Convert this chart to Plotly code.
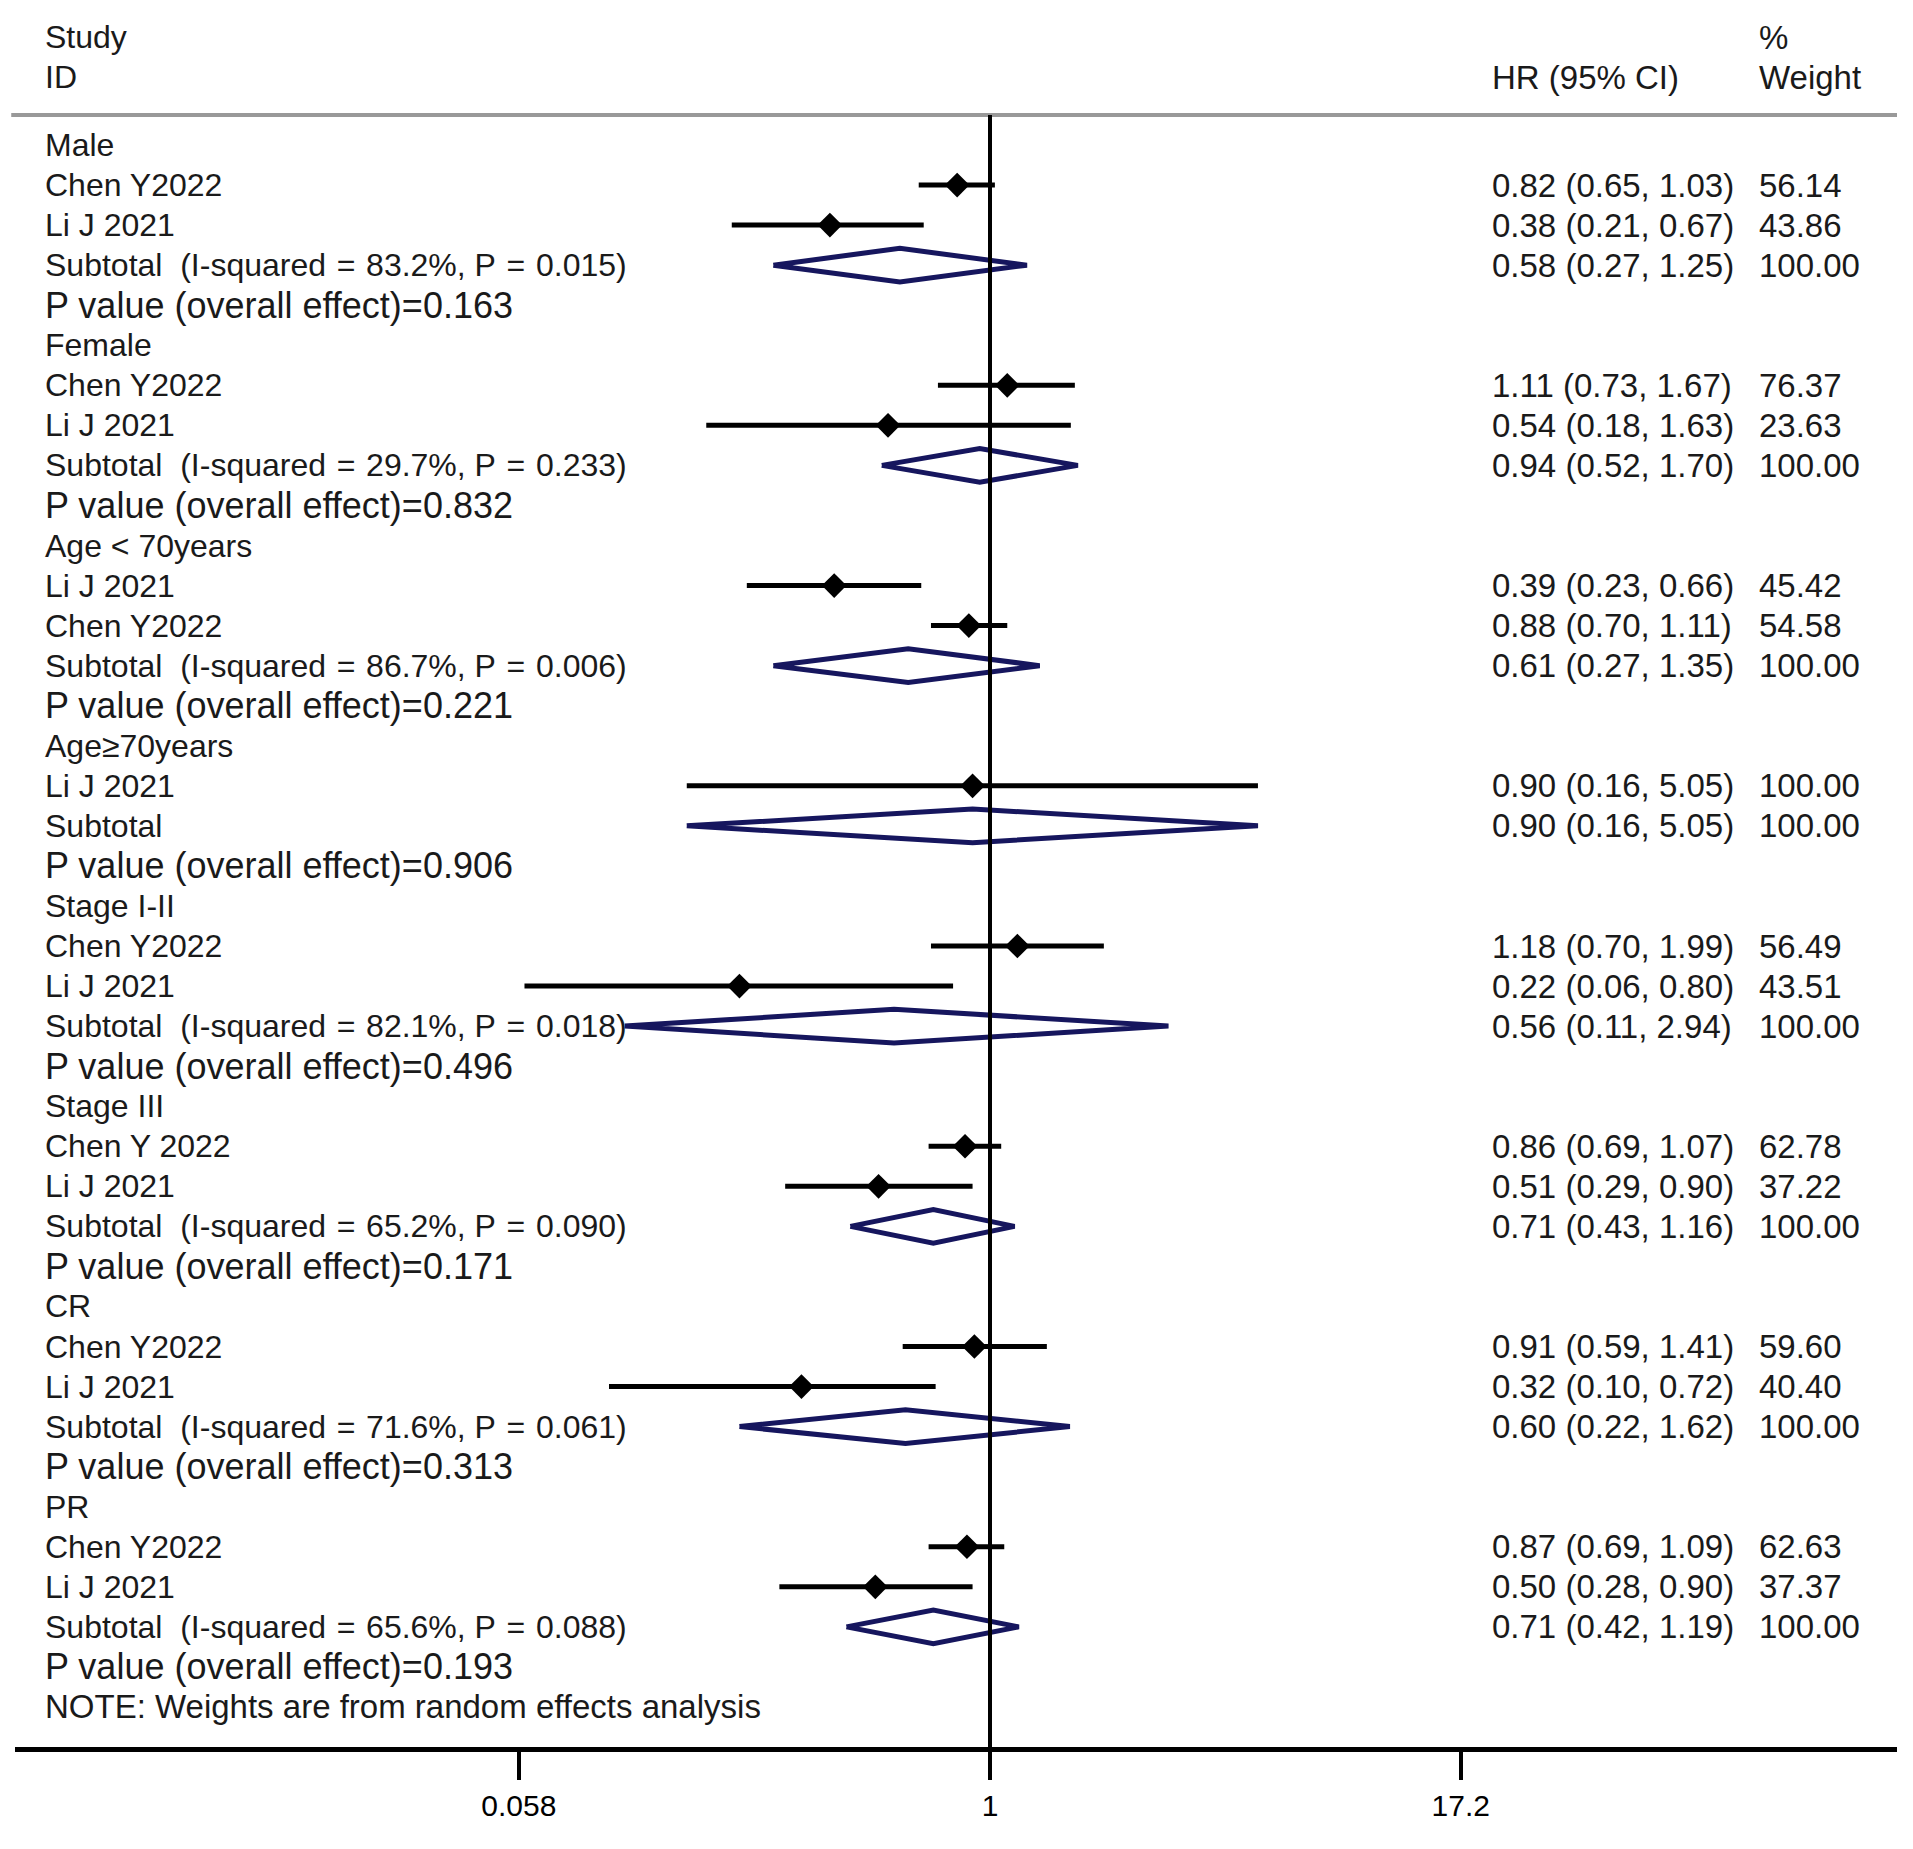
import plotly.graph_objects as go

# ---------------- data ----------------
group_names = ["Male", "Female", "Age < 70years", "Age\u226570years",
               "Stage I-II", "Stage III", "CR", "PR"]

study_group = [0, 0, 1, 1, 2, 2, 3, 4, 4, 5, 5, 6, 6, 7, 7]
study_names = ["Chen Y2022", "Li J 2021", "Chen Y2022", "Li J 2021",
               "Li J 2021", "Chen Y2022", "Li J 2021",
               "Chen Y2022", "Li J 2021", "Chen Y 2022", "Li J 2021",
               "Chen Y2022", "Li J 2021", "Chen Y2022", "Li J 2021"]
study_hr = [0.82, 0.38, 1.11, 0.54, 0.39, 0.88, 0.90, 1.18, 0.22, 0.86, 0.51, 0.91, 0.32, 0.87, 0.50]
study_lo = [0.65, 0.21, 0.73, 0.18, 0.23, 0.70, 0.16, 0.70, 0.06, 0.69, 0.29, 0.59, 0.10, 0.69, 0.28]
study_hi = [1.03, 0.67, 1.67, 1.63, 0.66, 1.11, 5.05, 1.99, 0.80, 1.07, 0.90, 1.41, 0.72, 1.09, 0.90]
study_wt = ["56.14", "43.86", "76.37", "23.63", "45.42", "54.58", "100.00",
            "56.49", "43.51", "62.78", "37.22", "59.60", "40.40", "62.63", "37.37"]

sub_hr = [0.58, 0.94, 0.61, 0.90, 0.56, 0.71, 0.60, 0.71]
sub_lo = [0.27, 0.52, 0.27, 0.16, 0.11, 0.43, 0.22, 0.42]
sub_hi = [1.25, 1.70, 1.35, 5.05, 2.94, 1.16, 1.62, 1.19]
sub_i2 = ["83.2%", "29.7%", "86.7%", None, "82.1%", "65.2%", "71.6%", "65.6%"]
sub_phet = ["0.015", "0.233", "0.006", None, "0.018", "0.090", "0.061", "0.088"]
overall_p = ["0.163", "0.832", "0.221", "0.906", "0.496", "0.171", "0.313", "0.193"]

tick_vals = [0.058, 1, 17.2]
tick_text = ["0.058", "1", "17.2"]

# ---------------- layout constants (pixels) ----------------
W, H = 1913, 1849
OFF = 8                      # page body margin of the html page
PLOT_L_PAGE, PLOT_R_PAGE = 15, 1897
PLOT_B_PAGE = 1747
ML = PLOT_L_PAGE - OFF
MR = W - (PLOT_R_PAGE - OFF)
MT = 0
MB = H - (PLOT_B_PAGE - OFF)
PLOT_W = W - ML - MR
PLOT_H = H - MT - MB
ROW0_PAGE = 145.0
ROW_STEP = 40.05
X1_PAGE = 990.0              # position of HR = 1 on the page
PX_PER_DEC = 381.0

row0_fig = ROW0_PAGE - OFF
y_top = -(row0_fig - MT) / ROW_STEP
y_bot = (MT + PLOT_H - row0_fig) / ROW_STEP
x1_fig = X1_PAGE - OFF
x_left = -(x1_fig - ML) / PX_PER_DEC
x_right = (ML + PLOT_W - x1_fig) / PX_PER_DEC


def row_of(px_page):
    return (px_page - ROW0_PAGE) / ROW_STEP


def xpaper(px_page):
    return (px_page - OFF - ML) / PLOT_W


FONT = "Liberation Sans, Arial, sans-serif"
TXT = "#1a1a1a"
FS = 32
NAVY = "#16165e"

COL_LABEL = xpaper(44)
COL_HR = xpaper(1491)
COL_WT = xpaper(1758)

annotations = []


def add_text(x, y, s, size=FS):
    annotations.append(dict(x=x, y=y, xref="paper", yref="y", text=s, showarrow=False,
                            xanchor="left", yanchor="middle", borderpad=0,
                            font=dict(family=FONT, size=size, color=TXT)))


def fmt_ci(h, l, u):
    return f"{h:.2f} ({l:.2f}, {u:.2f})"


EQ = "\u2004=\u2004"

# ---------------- build rows ----------------
ci_x, ci_y = [], []
pt_x, pt_y = [], []
dia_x, dia_y = [], []
row = 0
for g, gname in enumerate(group_names):
    add_text(COL_LABEL, row, gname)
    row += 1
    for k in range(len(study_group)):
        if study_group[k] != g:
            continue
        add_text(COL_LABEL, row, study_names[k])
        add_text(COL_HR, row, fmt_ci(study_hr[k], study_lo[k], study_hi[k]), 33)
        add_text(COL_WT, row, study_wt[k], 33)
        ci_x += [study_lo[k], study_hi[k], None]
        ci_y += [row, row, None]
        pt_x.append(study_hr[k])
        pt_y.append(row)
        row += 1
    if sub_i2[g] is None:
        lab = "Subtotal"
    else:
        lab = f"Subtotal\u00a0\u00a0(I-squared{EQ}{sub_i2[g]}, P{EQ}{sub_phet[g]})"
    add_text(COL_LABEL, row, lab)
    add_text(COL_HR, row, fmt_ci(sub_hr[g], sub_lo[g], sub_hi[g]), 33)
    add_text(COL_WT, row, "100.00", 33)
    hh = 0.42
    dia_x += [sub_lo[g], sub_hr[g], sub_hi[g], sub_hr[g], sub_lo[g], None]
    dia_y += [row, row - hh, row, row + hh, row, None]
    row += 1
    add_text(COL_LABEL, row, f"P value (overall effect)={overall_p[g]}", 36)
    row += 1

add_text(COL_LABEL, row, "NOTE: Weights are from random effects analysis", 33)

# headers
add_text(COL_LABEL, row_of(37), "Study")
add_text(COL_LABEL, row_of(77), "ID")
add_text(COL_HR, row_of(77), "HR (95% CI)", 33)
add_text(COL_WT, row_of(37), "%", 33)
add_text(COL_WT, row_of(77), "Weight", 33)

fig = go.Figure()
fig.add_trace(go.Scatter(x=ci_x, y=ci_y, mode="lines",
                         line=dict(color="black", width=5), hoverinfo="skip"))
fig.add_trace(go.Scatter(x=dia_x, y=dia_y, mode="lines",
                         line=dict(color=NAVY, width=5), hoverinfo="skip"))
fig.add_trace(go.Scatter(x=pt_x, y=pt_y, mode="markers",
                         marker=dict(symbol="diamond", size=19, color="black",
                                     line=dict(width=0)), hoverinfo="skip"))

shapes = [
    # header rule
    dict(type="line", xref="paper", yref="y", x0=-0.002, x1=1, y0=row_of(115), y1=row_of(115),
         line=dict(color="#999999", width=4)),
    # null line at HR = 1
    dict(type="line", xref="x", yref="y", x0=1, x1=1, y0=row_of(115), y1=y_bot,
         line=dict(color="black", width=4)),
]

fig.update_layout(
    width=W, height=H,
    margin=dict(l=ML, r=MR, t=MT, b=MB),
    paper_bgcolor="white", plot_bgcolor="white",
    showlegend=False,
    annotations=annotations,
    shapes=shapes,
    xaxis=dict(type="log", range=[x_left, x_right], showgrid=False, zeroline=False,
               showline=True, linecolor="black", linewidth=5,
               ticks="outside", ticklen=28, tickwidth=4, tickcolor="black",
               tickvals=tick_vals, ticktext=tick_text,
               tickfont=dict(family=FONT, size=30, color="black"), fixedrange=True),
    yaxis=dict(range=[y_bot, y_top], showgrid=False, zeroline=False, showline=False,
               showticklabels=False, ticks="", fixedrange=True),
)

fig.write_html("out.html")
